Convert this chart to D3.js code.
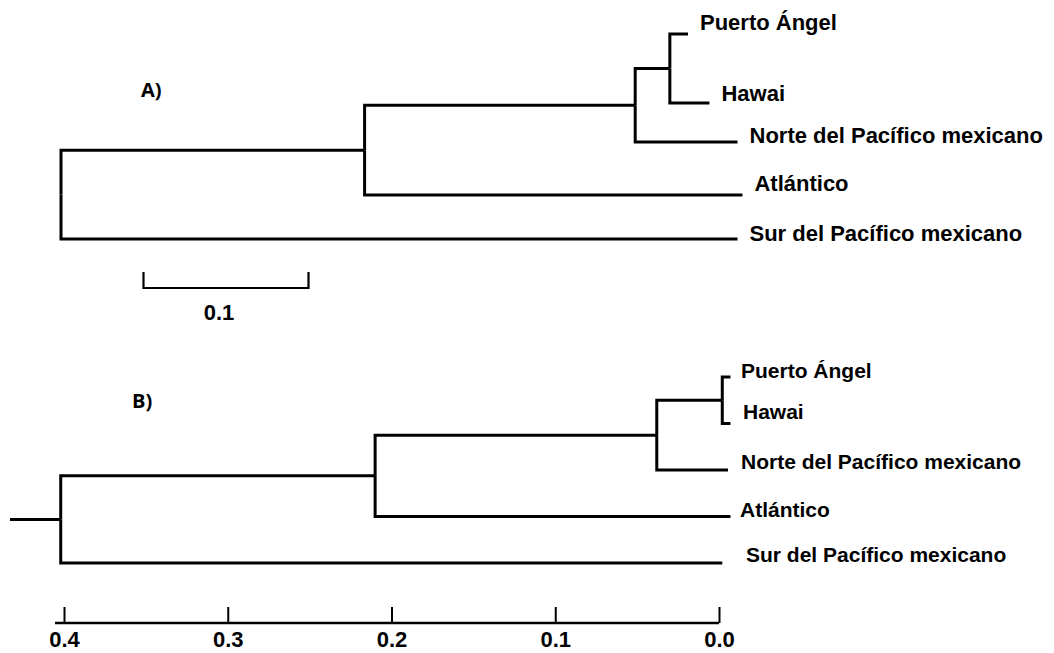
<!DOCTYPE html>
<html>
<head>
<meta charset="utf-8">
<script src="https://cdn.jsdelivr.net/npm/d3@7"></script>
<style>
  body { margin: 0; background: #fff; }
  svg { display: block; }
  .lbl { font-family: "Liberation Sans", Arial, sans-serif; font-weight: bold; fill: #000; }
  .panel { font-family: "Open Sans", sans-serif; font-weight: 700; font-size: 20px; fill: #000; }
</style>
</head>
<body>
<svg id="chart"></svg>
<script>
// tree topology (same for both panels)
var leaves = ["Puerto Ángel", "Hawai", "Norte del Pacífico mexicano", "Atlántico", "Sur del Pacífico mexicano"];
var nodeIds = ["raiz", "n1", "n2", "n3"].concat(leaves);
var parentIds = [null, "raiz", "n1", "n2", "n3", "n3", "n2", "n1", "raiz"];

// A) branch lengths (phylogram)
var branchA = [0, 0.184, 0.164, 0.021, 0.011, 0.024, 0.062, 0.229, 0.410];
var scaleBarA = 0.1;

// B) node heights (distance axis, UPGMA-like)
var heightB = [0.402, 0.21, 0.038, -0.002, -0.007, -0.007, -0.0055, -0.007, -0.002];
var rootEdgeB = 0.031;
var ticksB = [0.4, 0.3, 0.2, 0.1, 0.0];

var width = 1054, height = 653;
var svg = d3.select("#chart").attr("width", width).attr("height", height);
svg.append("rect").attr("width", width).attr("height", height).attr("fill", "#fff");

function buildTree(values) {
  var rows = nodeIds.map(function(id, i) {
    return { id: id, parent: parentIds[i], v: values[i] };
  });
  return d3.stratify().id(function(d) { return d.id; }).parentId(function(d) { return d.parent; })(rows);
}

// leaf row layout per panel
var rowsA = d3.scaleOrdinal().domain(leaves).range([34, 103, 142, 195, 239]);
var rowsB = d3.scalePoint().domain(leaves).range([377, 563]);

function layoutY(root, rows) {
  root.eachAfter(function(n) {
    if (!n.children) n.y = rows(n.id);
    else n.y = (n.children[0].y + n.children[n.children.length - 1].y) / 2;
  });
}

function drawTree(g, root, xpos) {
  g.selectAll("path.link")
    .data(root.links())
    .enter().append("path")
    .attr("class", "link")
    .attr("d", function(l) {
      return "M" + xpos(l.source) + "," + l.source.y + "V" + l.target.y + "H" + xpos(l.target);
    })
    .attr("fill", "none")
    .attr("stroke", "#000")
    .attr("stroke-width", 3);
}

// ---------- Panel A ----------
var treeA = buildTree(branchA);
treeA.eachBefore(function(n) { n.dist = (n.parent ? n.parent.dist : 0) + n.data.v; });
layoutY(treeA, rowsA);
var xA = d3.scaleLinear().domain([0, 0.1]).range([61, 226]);
var gA = svg.append("g");
drawTree(gA, treeA, function(n) { return xA(n.dist); });

var labelDyA = d3.scaleOrdinal().domain(leaves).range([-4, -2, 1, -4, 2]);
gA.selectAll("text.leaf")
  .data(treeA.leaves())
  .enter().append("text")
  .attr("class", "lbl leaf")
  .attr("x", function(d) { return xA(d.dist) + 12; })
  .attr("y", function(d) { return d.y + labelDyA(d.id); })
  .style("font-size", "22px")
  .text(function(d) { return d.id; });

gA.append("text").attr("class", "panel").attr("x", 141).attr("y", 97).text("A)");

// scale bar
var sb0 = xA(0.05), sb1 = xA(0.05 + scaleBarA), sbY = 288;
gA.append("path")
  .attr("d", "M" + sb0 + "," + (sbY - 16) + "V" + sbY + "H" + sb1 + "V" + (sbY - 16))
  .attr("fill", "none").attr("stroke", "#000").attr("stroke-width", 2.2);
gA.append("text")
  .attr("class", "lbl")
  .attr("x", (sb0 + sb1) / 2 - 7)
  .attr("y", 320)
  .attr("text-anchor", "middle")
  .style("font-size", "22px")
  .text(d3.format(".1f")(scaleBarA));

// ---------- Panel B ----------
var treeB = buildTree(heightB);
layoutY(treeB, rowsB);
var xB = d3.scaleLinear().domain([0.4, 0]).range([64, 719]);
var gB = svg.append("g");
drawTree(gB, treeB, function(n) { return xB(n.data.v); });
gB.append("line")
  .attr("x1", xB(treeB.data.v + rootEdgeB)).attr("x2", xB(treeB.data.v))
  .attr("y1", treeB.y).attr("y2", treeB.y)
  .attr("stroke", "#000").attr("stroke-width", 3);

var labelDyB = d3.scaleOrdinal().domain(leaves).range([1, -5, -1, 0, -1]);
var labelDxB = d3.scaleOrdinal().domain(leaves).range([22, 24, 22, 21, 27]);
gB.selectAll("text.leaf")
  .data(treeB.leaves())
  .enter().append("text")
  .attr("class", "lbl leaf")
  .attr("x", function(d) { return xB(0) + labelDxB(d.id); })
  .attr("y", function(d) { return d.y + labelDyB(d.id); })
  .style("font-size", "21px")
  .text(function(d) { return d.id; });

gB.append("text").attr("class", "panel").attr("x", 132).attr("y", 408).text("B)");

// distance axis
var axisB = d3.axisBottom(xB)
  .tickValues(ticksB)
  .tickSize(-16)
  .tickSizeOuter(0)
  .tickPadding(8)
  .tickFormat(d3.format(".1f"));
var ax = gB.append("g").attr("transform", "translate(0,623)").call(axisB);
ax.select(".domain").remove();
ax.append("line")
  .attr("x1", xB(0.4055)).attr("x2", xB(0))
  .attr("stroke", "#000").attr("stroke-width", 2.5);
ax.selectAll(".tick line").attr("stroke", "#000").attr("stroke-width", 2);
ax.selectAll(".tick text")
  .attr("class", "lbl")
  .attr("fill", "#000")
  .style("font-size", "22px");
</script>
</body>
</html>
